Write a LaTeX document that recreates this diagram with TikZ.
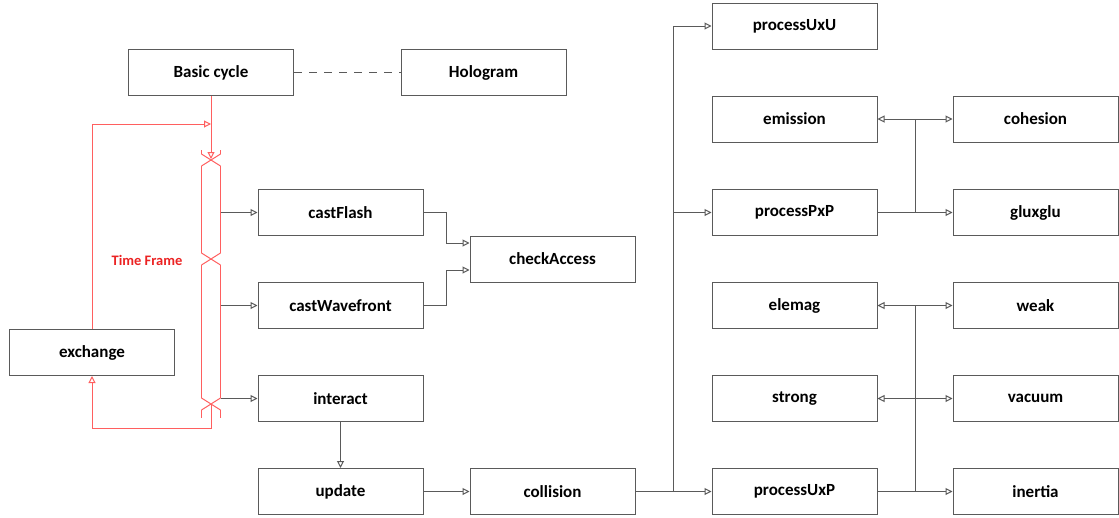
\documentclass[tikz,border=0pt]{standalone}
\usepackage{fontspec}
\setmainfont{Carlito}
\usetikzlibrary{arrows.meta}

\definecolor{linegray}{RGB}{90,90,90}
\definecolor{framered}{RGB}{255,95,95}
\definecolor{labelred}{RGB}{235,35,35}

\tikzset{
  box/.style={draw=linegray,line width=1pt,minimum width=165pt,minimum height=46pt,inner sep=0pt,font=\bfseries\fontsize{17}{19}\selectfont},
  link/.style={linegray,line width=1pt},
  redlink/.style={framered,line width=1pt},
  hollow/.style={-{Triangle[open,length=7pt,width=7pt]}},
}

\begin{document}
\begin{tikzpicture}[x=1pt,y=-1pt]
  \useasboundingbox (0,0) rectangle (1119,517);
  % left part
  \node[box](basic) at (211,72.5){Basic cycle};
  \node[box](holo) at (483.5,72.5){Hologram};
  \node[box](flash) at (340.5,212.5){castFlash};
  \node[box](wave) at (340.5,305.5){castWavefront};
  \node[box](check) at (552.5,259){checkAccess};
  \node[box](exchange) at (92,352.5){exchange};
  \node[box](interact) at (340.5,398.5){interact};
  \node[box](update) at (340.5,491.5){update};
  \node[box](collision) at (552.5,491.5){collision};
  % right part
  \node[box](uxu) at (794.5,26){processUxU};
  \node[box](emission) at (794.5,119){emission};
  \node[box](pxp) at (794.5,212.5){processPxP};
  \node[box](elemag) at (794.5,305.5){elemag};
  \node[box](strong) at (794.5,398.5){strong};
  \node[box](uxp) at (794.5,491.5){processUxP};
  \node[box](cohesion) at (1035.5,119){cohesion};
  \node[box](glu) at (1035.5,212.5){gluxglu};
  \node[box](weak) at (1035.5,305.5){weak};
  \node[box](vacuum) at (1035.5,398.5){vacuum};
  \node[box](inertia) at (1035.5,491.5){inertia};
  \node[text=labelred,font=\bfseries\fontsize{14.5}{16}\selectfont](tf) at (147,260){Time Frame};

  % time frame bar
  \foreach \y in {160,259,404}{
    \draw[redlink] (201.5,\y-6) -- (220.5,\y+6) (220.5,\y-6) -- (201.5,\y+6);
  }
  \foreach \a/\b in {150/154,166/253,265/398,410/418}{
    \draw[redlink] (201.5,\a) -- (201.5,\b) (220.5,\a) -- (220.5,\b);
  }
  \coordinate (bar) at (220.5,300);
  \coordinate (topx) at (211,159);
  \coordinate (lowx) at (211,404);
  \coordinate (loopin) at (211,124);

  \draw[redlink,hollow] (basic.south) -- (topx);
  \draw[redlink,hollow] (exchange.north) |- (loopin);
  \draw[redlink,hollow] (lowx) -- ++(0,24) -| (exchange.south);

  \draw[link,dash pattern=on 8pt off 7pt] (basic) -- (holo);
  \draw[link,hollow] (flash.west -| bar) -- (flash.west);
  \draw[link,hollow] (wave.west -| bar) -- (wave.west);
  \draw[link,hollow] (interact.west -| bar) -- (interact.west);
  \draw[link,hollow] (flash.east) -- ++(23,0) |- ([yshift=16pt]check.west);
  \draw[link,hollow] (wave.east) -- ++(23,0) |- ([yshift=-11pt]check.west);
  \draw[link,hollow] (interact) -- (update);
  \draw[link,hollow] (update) -- (collision);

  \coordinate (split) at (673.5,491.5);
  \draw[link,hollow] (collision.east) -- (uxp.west);
  \draw[link,hollow] (split) |- (uxu.west);
  \draw[link,hollow] (split) |- (pxp.west);

  \coordinate (hubA) at (915,212.5);
  \draw[link,hollow] (pxp.east) -- (glu.west);
  \draw[link,hollow] (hubA) |- (emission.east);
  \draw[link,hollow] (hubA) |- (cohesion.west);

  \coordinate (hubB) at (915,491.5);
  \draw[link,hollow] (uxp.east) -- (inertia.west);
  \draw[link,hollow] (hubB) |- (elemag.east);
  \draw[link,hollow] (hubB) |- (weak.west);
  \draw[link,hollow] (hubB) |- (strong.east);
  \draw[link,hollow] (hubB) |- (vacuum.west);
\end{tikzpicture}
\end{document}
